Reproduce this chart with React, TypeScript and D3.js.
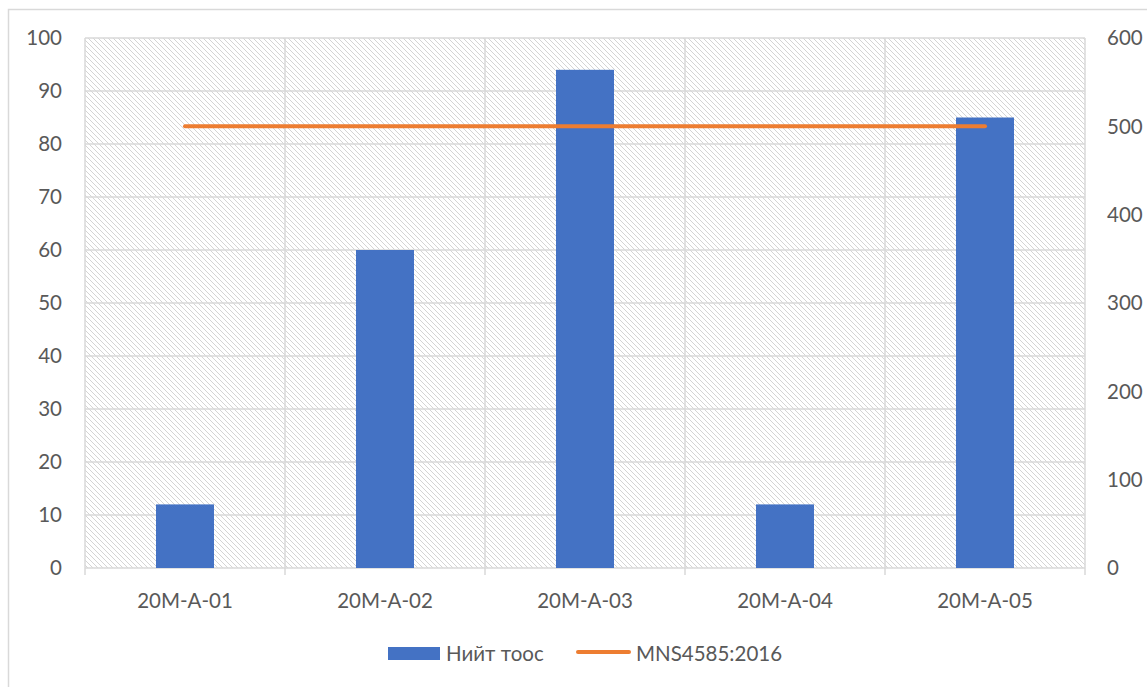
import React from "react";
import * as d3 from "d3";

const categories = ["20M-A-01", "20M-A-02", "20M-A-03", "20M-A-04", "20M-A-05"];
const dustValues = [12, 60, 94, 12, 85];
const standardValues = [500, 500, 500, 500, 500];
const leftTicks = [0, 10, 20, 30, 40, 50, 60, 70, 80, 90, 100];
const rightTicks = [0, 100, 200, 300, 400, 500, 600];
const seriesNames = ["Нийт тоос", "MNS4585:2016"];

const W = 1147;
const H = 687;
const PL = 85, PR = 1085, PT = 38, PB = 568;
const FONT = "Lato, 'Open Sans', sans-serif";
const FS = 20.5;
const TXT = "#595959";
const GRID = "#d9d9d9";
const BLUE = "#4472C4";
const ORANGE = "#ED7D31";

export default function App() {
  const x = d3.scaleBand<string>().domain(categories).range([PL, PR]).paddingInner(0.71).paddingOuter(0.355);
  const xCat = d3.scaleBand<string>().domain(categories).range([PL, PR]);
  const yL = d3.scaleLinear().domain([0, 100]).range([PB, PT]);
  const yR = d3.scaleLinear().domain([0, 600]).range([PB, PT]);
  const line = d3.line<number>()
    .x((_, i) => (xCat(categories[i]) as number) + xCat.bandwidth() / 2)
    .y((d) => yR(d));
  const boundaries = categories.map((c) => xCat(c) as number).concat([PR]);

  return (
    <svg width={W} height={H} style={{ position: "absolute", left: 0, top: 0, display: "block" }} fontFamily={FONT}>
      <defs>
        <pattern id="hatch" patternUnits="userSpaceOnUse" width={5} height={5}>
          <rect width={5} height={5} fill="#ffffff" />
          <path d="M-1,-1 L6,6 M-1,4 L1,6 M4,-1 L6,1" stroke="#d4d4d4" strokeWidth={1} />
        </pattern>
      </defs>
      <rect x={0} y={0} width={W} height={H} fill="#ffffff" />
      <rect x={8.5} y={9.5} width={1145} height={690} fill="none" stroke={GRID} strokeWidth={1.5} />
      <rect x={PL} y={PT} width={PR - PL} height={PB - PT} fill="url(#hatch)" />
      {leftTicks.map((t) => (
        <line key={"h" + t} x1={PL} x2={PR} y1={yL(t)} y2={yL(t)} stroke={GRID} strokeWidth={1.5} />
      ))}
      {boundaries.map((b, i) => (
        <line key={"v" + i} x1={b} x2={b} y1={PT} y2={PB + 7} stroke={GRID} strokeWidth={1.5} />
      ))}
      {categories.map((c, i) => (
        <rect key={"b" + c} x={x(c)} y={yL(dustValues[i])} width={x.bandwidth()} height={PB - yL(dustValues[i])} fill={BLUE} />
      ))}
      <path d={line(standardValues) || ""} fill="none" stroke={ORANGE} strokeWidth={4} strokeLinecap="round" />
      {leftTicks.map((t) => (
        <text key={"l" + t} x={62} y={yL(t)} dy="0.35em" textAnchor="end" fontSize={FS} fill={TXT}>{t}</text>
      ))}
      {rightTicks.map((t) => (
        <text key={"r" + t} x={1107} y={yR(t)} dy="0.35em" textAnchor="start" fontSize={FS} fill={TXT}>{t}</text>
      ))}
      {categories.map((c) => (
        <text key={"c" + c} x={(xCat(c) as number) + xCat.bandwidth() / 2} y={601} dy="0.35em" textAnchor="middle" fontSize={FS} fill={TXT}>{c}</text>
      ))}
      <g>
        <rect x={388} y={647} width={52} height={13} fill={BLUE} />
        <text x={446} y={653.5} dy="0.35em" fontSize={FS} fill={TXT}>{seriesNames[0]}</text>
        <line x1={578} x2={629} y1={652} y2={652} stroke={ORANGE} strokeWidth={4} strokeLinecap="round" />
        <text x={636} y={653.5} dy="0.35em" fontSize={FS} fill={TXT}>{seriesNames[1]}</text>
      </g>
    </svg>
  );
}
